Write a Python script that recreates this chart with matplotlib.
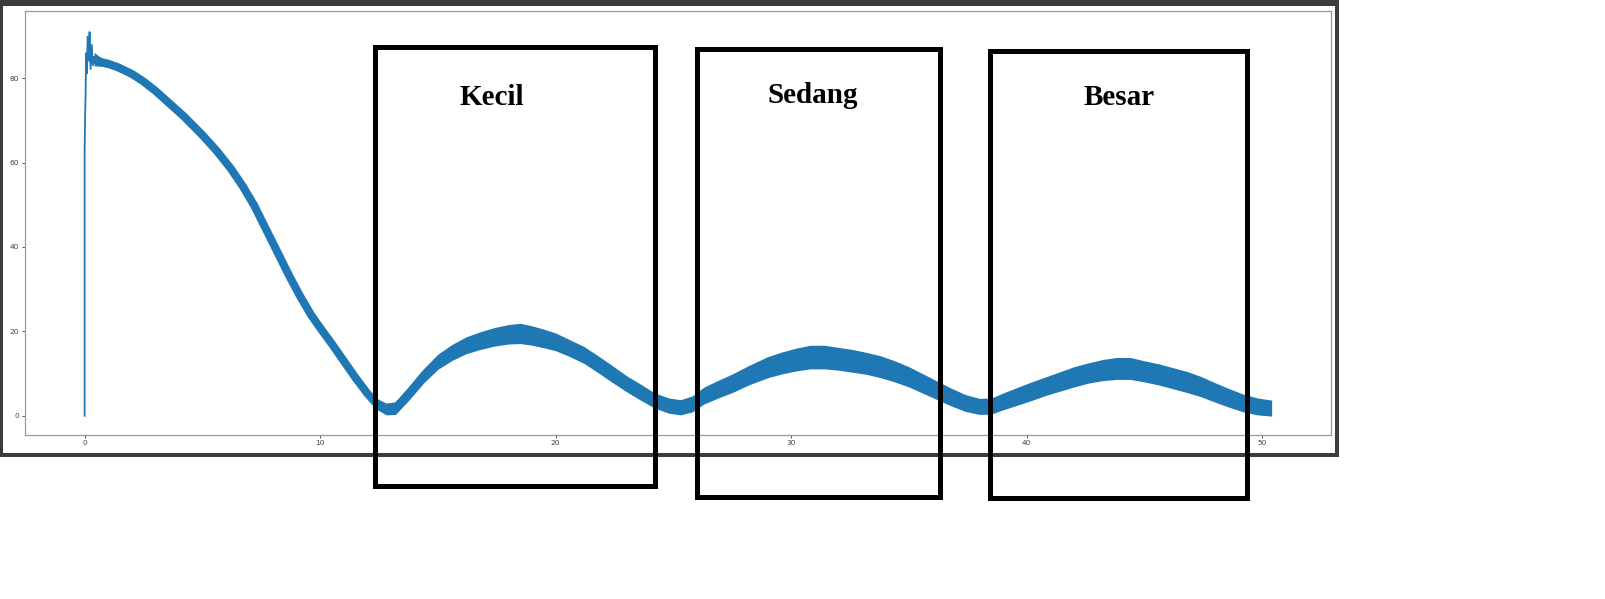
import matplotlib
matplotlib.use("Agg")
import matplotlib.pyplot as plt
from matplotlib.patches import Rectangle

# ---------------- data ----------------
# thin initial rise at t = 0
spike_x = [0.0, 0.0, 0.02, 0.04, 0.06, 0.09, 0.13, 0.17, 0.21, 0.25, 0.30, 0.35, 0.40]
spike_y = [0.0, 63.0, 71.0, 76.0, 86.0, 81.0, 90.0, 84.0, 91.0, 82.0, 88.0, 83.0, 85.0]

# centre of the noisy signal band
sig_x = [0.4, 0.7, 1.0, 1.4, 2.0, 2.5, 3.0, 3.5, 4.2, 5.0, 5.6, 6.2, 6.7, 7.2,
         7.7, 8.2, 8.7, 9.1, 9.6, 10.0, 10.5, 11.0, 11.5, 12.0, 12.4, 12.8, 13.2,
         13.8, 14.4, 15.0, 15.6, 16.2, 16.8, 17.4, 18.0, 18.5, 19.0, 19.5, 20.0,
         20.6, 21.2, 21.8, 22.4, 23.0, 23.6, 24.2, 24.8, 25.3, 25.8, 26.3, 26.9,
         27.5, 28.2, 29.0, 29.6, 30.2, 30.8, 31.4, 32.0, 32.6, 33.2, 33.8, 34.4,
         35.0, 35.6, 36.2, 36.8, 37.4, 38.0, 38.5, 39.0, 39.6, 40.2, 40.8, 41.4,
         42.0, 42.6, 43.2, 43.8, 44.4, 45.0, 45.6, 46.2, 46.8, 47.4, 48.0, 48.6,
         49.2, 49.8, 50.4]
sig_y = [84.5, 83.8, 83.4, 82.6, 81.0, 79.2, 77.0, 74.5, 71.0, 66.5, 62.8, 58.6, 54.5, 49.8,
         44.2, 38.6, 33.0, 28.8, 24.0, 20.8, 17.0, 13.0, 9.0, 5.3, 2.8, 1.6, 1.8,
         5.5, 9.5, 12.8, 15.0, 16.7, 17.8, 18.7, 19.3, 19.5, 19.0, 18.3, 17.5,
         16.0, 14.4, 12.2, 9.9, 7.6, 5.6, 3.6, 2.4, 2.0, 2.8, 4.8, 6.3,
         7.7, 9.6, 11.5, 12.5, 13.3, 13.9, 13.9, 13.5, 13.0, 12.4, 11.6, 10.5,
         9.2, 7.6, 6.0, 4.4, 3.0, 2.2, 2.3, 3.4, 4.6, 5.8, 7.0, 8.1,
         9.2, 10.1, 10.8, 11.2, 11.2, 10.5, 9.8, 8.9, 8.0, 6.9, 5.5, 4.2,
         3.0, 2.2, 1.8]
# half height of the noise band around the centre
sig_hw = [1.6, 1.0, 0.9, 0.9, 0.9, 0.9, 0.9, 0.9, 0.9, 0.9, 0.9, 0.9, 0.9, 0.9,
          0.9, 0.9, 0.9, 0.9, 1.0, 1.0, 1.0, 1.0, 1.1, 1.2, 1.3, 1.4, 1.5,
          1.6, 1.7, 1.8, 1.9, 2.0, 2.1, 2.2, 2.3, 2.4, 2.3, 2.2, 2.1,
          2.0, 2.0, 2.0, 2.0, 1.9, 1.9, 1.8, 1.8, 1.8, 1.9, 2.0, 2.1,
          2.2, 2.3, 2.5, 2.6, 2.7, 2.8, 2.8, 2.7, 2.7, 2.6, 2.6, 2.5,
          2.4, 2.3, 2.2, 2.1, 2.0, 1.9, 1.9, 2.0, 2.1, 2.2, 2.2, 2.3,
          2.4, 2.4, 2.5, 2.6, 2.6, 2.5, 2.5, 2.5, 2.5, 2.4, 2.3, 2.2,
          2.1, 2.0, 1.9]

x_ticks = [0, 10, 20, 30, 40, 50]
y_ticks = [0, 20, 40, 60, 80]

box_labels = ["Kecil", "Sedang", "Besar"]

# ---------------- layout ----------------
W, H = 1605, 599
fig = plt.figure(figsize=(W / 100, H / 100), dpi=100)
fig.patch.set_facecolor("white")


def fbox(x0, y0, x1, y1):
    """pixel box (top-left origin) -> figure fraction [l, b, w, h]"""
    return [x0 / W, 1 - y1 / H, (x1 - x0) / W, (y1 - y0) / H]


# dark screenshot frame
l, b, w, h = fbox(0, 0, 1339, 457)
fig.patches.append(Rectangle((l, b), w, h, transform=fig.transFigure,
                             facecolor="#3b3b3b", edgecolor="none", zorder=-3))
l, b, w, h = fbox(3, 6, 1335, 453)
fig.patches.append(Rectangle((l, b), w, h, transform=fig.transFigure,
                             facecolor="white", edgecolor="none", zorder=-2))

ax = fig.add_axes(fbox(25.3, 11, 1331, 434.5))
ax.set_facecolor("white")

C0 = "#1f77b4"
ax.plot(spike_x, spike_y, color=C0, lw=1.3, solid_joinstyle="miter")
low = [c - d for c, d in zip(sig_y, sig_hw)]
high = [c + d for c, d in zip(sig_y, sig_hw)]
ax.fill_between(sig_x, low, high, color=C0, lw=0)
ax.plot(sig_x, sig_y, color=C0, lw=5.8, solid_capstyle="butt")

ax.set_xlim(-2.52, 52.92)
ax.set_ylim(-4.45, 95.9)
ax.set_xticks(x_ticks)
ax.set_yticks(y_ticks)
ax.tick_params(labelsize=5.4, labelcolor="#444444", color="#555555",
               length=2.5, width=0.7, pad=1.8)
for sp in ax.spines.values():
    sp.set_color("#9a9a9a")
    sp.set_linewidth(0.9)

# annotation boxes (outer pixel extents) and labels
boxes = [(372, 44, 657, 488), (694, 46.5, 942, 499), (987.5, 48, 1249.5, 500.5)]
label_pos = [(492, 105), (812.6, 102.7), (1119, 105)]
t = 5.0  # border thickness in px
for (x0, y0, x1, y1), name, (tx, ty) in zip(boxes, box_labels, label_pos):
    l, b, w, h = fbox(x0 + t / 2, y0 + t / 2, x1 - t / 2, y1 - t / 2)
    fig.patches.append(Rectangle((l, b), w, h, transform=fig.transFigure,
                                 fill=False, edgecolor="black",
                                 linewidth=t * 0.72, joinstyle="miter", zorder=10))
    fig.text(tx / W, 1 - ty / H, name, ha="center", va="baseline",
             family="Liberation Serif", weight="bold", fontsize=21,
             color="black", zorder=11)

fig.savefig("out.png", dpi=100, facecolor="white")
